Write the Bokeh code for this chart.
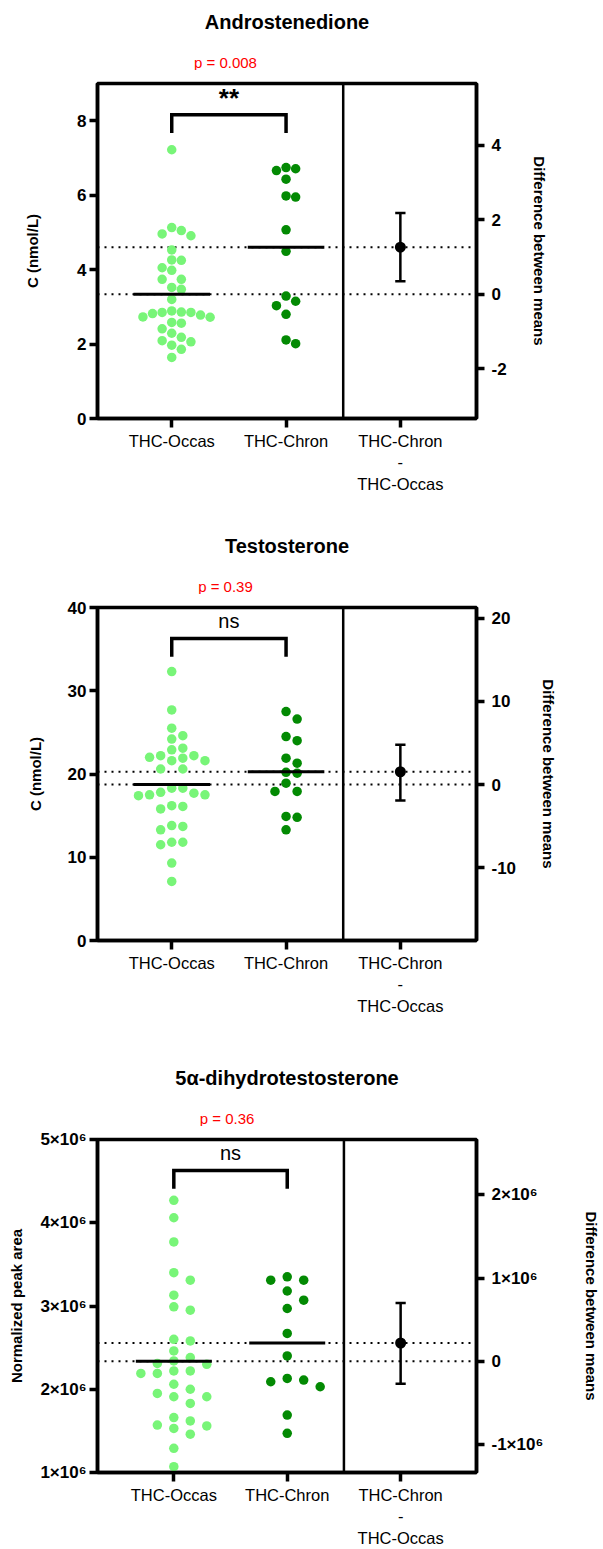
import numpy as np
from bokeh.plotting import figure
from bokeh.layouts import column
from bokeh.models import Range1d, LinearAxis, FixedTicker, Span, Label
from bokeh.embed import file_html
from bokeh.resources import INLINE

# ---------------- data ----------------
categories = ["THC-Occas", "THC-Chron", "THC-Chron\n-\nTHC-Occas"]

andro_occas = [7.22, 5.13, 5.05, 4.96, 4.91, 4.53, 4.26, 4.25, 4.05, 3.98, 3.74, 3.74,
               3.52, 3.47, 3.20, 2.89, 2.86, 2.85, 2.85, 2.82, 2.78, 2.73, 2.72, 2.58,
               2.56, 2.41, 2.29, 2.18, 2.09, 2.06, 1.97, 1.86, 1.64]
andro_chron = [6.74, 6.71, 6.66, 6.43, 5.98, 5.95, 5.07, 4.49, 3.29, 3.15, 3.03, 2.80,
               2.11, 2.01]
andro_ci = [0.35, 2.18]
andro_yticks = [0, 2, 4, 6, 8]
andro_ylabels = ["0", "2", "4", "6", "8"]
andro_rticks = [-2, 0, 2, 4]
andro_rlabels = ["-2", "0", "2", "4"]

testo_occas = [32.3, 27.7, 25.5, 24.6, 24.2, 23.1, 22.9, 22.2, 22.2, 22.0, 21.9, 21.6,
               21.6, 20.6, 20.6, 18.3, 18.3, 17.8, 17.7, 17.5, 17.5, 17.4, 16.2, 16.1,
               15.8, 13.8, 13.7, 13.3, 11.8, 11.8, 11.5, 9.3, 7.1]
testo_chron = [27.5, 26.6, 24.5, 24.0, 21.9, 21.3, 20.2, 20.1, 18.9, 17.9, 17.9, 14.9,
               14.8, 13.3]
testo_ci = [-1.9, 4.8]
testo_yticks = [0, 10, 20, 30, 40]
testo_ylabels = ["0", "10", "20", "30", "40"]
testo_rticks = [-10, 0, 10, 20]
testo_rlabels = ["-10", "0", "10", "20"]

dht_occas = [4.27e6, 4.06e6, 3.77e6, 3.40e6, 3.31e6, 3.13e6, 2.99e6, 2.95e6, 2.60e6,
             2.58e6, 2.46e6, 2.38e6, 2.34e6, 2.31e6, 2.30e6, 2.22e6, 2.22e6, 2.19e6,
             2.19e6, 2.06e6, 2.00e6, 1.95e6, 1.91e6, 1.91e6, 1.83e6, 1.66e6, 1.62e6,
             1.57e6, 1.56e6, 1.53e6, 1.46e6, 1.29e6, 1.07e6]
dht_chron = [3.35e6, 3.31e6, 3.31e6, 3.18e6, 3.07e6, 2.97e6, 2.67e6, 2.40e6, 2.13e6,
             2.11e6, 2.09e6, 2.03e6, 1.69e6, 1.47e6]
dht_ci = [-0.27e6, 0.70e6]
dht_yticks = [1000000, 2000000, 3000000, 4000000, 5000000]
dht_ylabels = ["1×10⁶", "2×10⁶", "3×10⁶", "4×10⁶", "5×10⁶"]
dht_rticks = [-1000000, 0, 1000000, 2000000]
dht_rlabels = ["-1×10⁶", "0", "1×10⁶", "2×10⁶"]

titles = ["Androstenedione", "Testosterone", "5α-dihydrotestosterone"]
p_values = ["p = 0.008", "p = 0.39", "p = 0.36"]
significance = ["**", "ns", "ns"]
y_axis_labels = ["C (nmol/L)", "C (nmol/L)", "Normalized peak area"]

# ---------------- style ----------------
FONT = "Liberation Sans"
LIGHT = "#78F578"
DARK = "#038A03"
W = 603


def swarm(vals, px_per_y, step_px, dv_px, px_per_x):
    """Grid beeswarm: offsets on half-step slots, no two markers closer than
    one step horizontally when they are within dv_px vertically."""
    vals = np.asarray(vals, float)
    ys = vals * px_per_y
    order = np.argsort(-vals, kind="stable")
    placed = []
    xs = np.zeros(len(vals))
    slots = [0]
    for k in range(1, 30):
        slots += [k, -k]
    for i in order:
        y = ys[i]
        near = [px for px, py in placed if abs(py - y) < dv_px]
        x = 0.0
        for s in slots:
            c = s * step_px / 2.0
            if all(abs(c - px) >= step_px * 0.99 for px in near):
                x = c
                break
        placed.append((x, y))
        xs[i] = x
    return xs / px_per_x


def style_axis(ax, size="17px", bold=True):
    ax.axis_line_width = 3.5
    ax.axis_line_color = "black"
    ax.major_tick_line_width = 3.5
    ax.major_tick_line_color = "black"
    ax.major_tick_in = 0
    ax.major_tick_out = 8
    ax.minor_tick_line_color = None
    ax.major_label_text_font = FONT
    ax.major_label_text_font_size = size
    ax.major_label_text_font_style = "bold" if bold else "normal"
    ax.major_label_text_color = "black"
    ax.axis_label_text_font = FONT
    ax.axis_label_text_font_size = "15px"
    ax.axis_label_text_font_style = "bold"
    ax.axis_label_text_color = "black"


def make_header(idx, hh, bl, br, bt_main, xr):
    hp = figure(width=W, height=hh, x_range=Range1d(*xr), y_range=Range1d(0, hh),
                output_backend="svg", toolbar_location=None, tools="",
                x_axis_location=None, y_axis_location=None,
                min_border_left=bl, min_border_right=br,
                min_border_top=0, min_border_bottom=0)
    hp.xgrid.visible = False
    hp.ygrid.visible = False
    hp.outline_line_color = None
    # distances (px) above the main frame's top edge
    hp.add_layout(Label(x=1.47, y=21 - bt_main, text=p_values[idx],
                        text_align="center", text_baseline="middle",
                        text_font=FONT, text_font_size="15px",
                        text_color="#FF0000"))
    hp.add_layout(Label(x=(xr[0] + xr[1]) / 2, y=62 - bt_main, text=titles[idx],
                        text_align="center", text_baseline="middle",
                        text_font=FONT, text_font_size="20px",
                        text_font_style="bold", text_color="black"))
    return hp


def make_panel(idx, occ, chron, ci, yr, yticks, ylabels, rticks, rlabels,
               h, bl, br, bt, bb, xr, step_px, sig_bold, lstand, rstand):
    frame_h = h - bt - bb
    frame_w = W - bl - br
    y0, y1 = yr
    px_per_y = frame_h / (y1 - y0)
    px_per_x = frame_w / (xr[1] - xr[0])

    p = figure(width=W, height=h, x_range=Range1d(*xr), y_range=Range1d(*yr),
               output_backend="svg", toolbar_location=None, tools="",
               min_border_left=bl, min_border_right=br,
               min_border_top=bt, min_border_bottom=bb)
    p.xgrid.visible = False
    p.ygrid.visible = False
    p.outline_line_color = "black"
    p.outline_line_width = 3.5
    p.outline_line_alpha = 1.0

    m_occ = float(np.mean(occ))
    m_chr = float(np.mean(chron))
    diff = m_chr - m_occ

    # right axis: difference between means, zero aligned with Occas mean
    p.extra_y_ranges = {"diff": Range1d(y0 - m_occ, y1 - m_occ)}

    xax = p.xaxis[0]
    style_axis(xax, size="16.5px", bold=False)
    xax.ticker = FixedTicker(ticks=[1, 2, 3])
    xax.major_label_overrides = {i + 1: c for i, c in enumerate(categories)}
    xax.major_tick_out = 9
    xax.major_label_standoff = 4

    yax = p.yaxis[0]
    style_axis(yax)
    yax.ticker = FixedTicker(ticks=yticks)
    yax.major_label_overrides = {t: l for t, l in zip(yticks, ylabels)}
    yax.major_label_standoff = 3
    yax.axis_label = y_axis_labels[idx]
    yax.axis_label_standoff = lstand

    rax = LinearAxis(y_range_name="diff")
    style_axis(rax)
    rax.ticker = FixedTicker(ticks=rticks)
    rax.major_label_overrides = {t: l for t, l in zip(rticks, rlabels)}
    rax.major_label_standoff = 7
    rax.axis_label = "Difference between means"
    rax.axis_label_standoff = rstand
    p.add_layout(rax, "right")

    for m in (m_occ, m_chr):
        p.add_layout(Span(location=m, dimension="width", line_color="black",
                          line_width=2, line_dash="2 5", level="underlay"))
    p.add_layout(Span(location=2.5, dimension="height", line_color="black",
                      line_width=2.5))

    ox = 1 + swarm(occ, px_per_y, step_px, 9.8, px_per_x)
    cx = 2 + swarm(chron, px_per_y, step_px, 9.8, px_per_x)
    p.scatter(ox, occ, size=9.5, fill_color=LIGHT, line_color=None)
    p.scatter(cx, chron, size=9.5, fill_color=DARK, line_color=None)

    hw = 0.335
    p.segment(x0=[1 - hw, 2 - hw], x1=[1 + hw, 2 + hw], y0=[m_occ, m_chr],
              y1=[m_occ, m_chr], line_color="black", line_width=3)

    p.segment(x0=[3], x1=[3], y0=[ci[0]], y1=[ci[1]], line_color="black",
              line_width=2.5, y_range_name="diff")
    cw = 0.045
    p.segment(x0=[3 - cw, 3 - cw], x1=[3 + cw, 3 + cw], y0=ci, y1=ci,
              line_color="black", line_width=2.5, y_range_name="diff")
    p.scatter([3], [diff], size=11, fill_color="black", line_color=None,
              y_range_name="diff")

    span = y1 - y0
    yt = y0 + 0.907 * span
    yl = y0 + 0.852 * span
    p.line([1, 1, 2, 2], [yl, yt, yt, yl], line_color="black", line_width=3.5,
           line_join="miter")
    p.add_layout(Label(x=1.5, y=y0 + 0.958 * span, text=significance[idx],
                       text_align="center", text_baseline="middle",
                       text_font=FONT,
                       text_font_size="26px" if sig_bold else "20px",
                       text_font_style="bold" if sig_bold else "normal",
                       text_color="black"))
    return p


BT = 13
xr12 = (0.3506, 3.666)
xr3 = (0.327, 3.669)

h1 = make_header(0, 83 - BT, 95, 125, BT, xr12)
p1 = make_panel(0, andro_occas, andro_chron, andro_ci, (0, 9), andro_yticks,
                andro_ylabels, andro_rticks, andro_rlabels,
                h=520 - 83 + BT, bl=95, br=125, bt=BT, bb=102, xr=xr12,
                step_px=9.7, sig_bold=True, lstand=33, rstand=21)
h2 = make_header(1, 87 - BT, 95, 125, BT, xr12)
p2 = make_panel(1, testo_occas, testo_chron, testo_ci, (0, 40), testo_yticks,
                testo_ylabels, testo_rticks, testo_rlabels,
                h=520 - 87 + BT, bl=95, br=125, bt=BT, bb=100, xr=xr12,
                step_px=11.2, sig_bold=False, lstand=21, rstand=21)
h3 = make_header(2, 99 - BT, 97, 115, BT, xr3)
p3 = make_panel(2, dht_occas, dht_chron, dht_ci, (1e6, 5e6), dht_yticks,
                dht_ylabels, dht_rticks, dht_rlabels,
                h=509 - 99 + BT, bl=97, br=115, bt=BT, bb=70, xr=xr3,
                step_px=17, sig_bold=False, lstand=12, rstand=37)

layout = column(h1, p1, h2, p2, h3, p3, spacing=0)
open("out.html", "w").write(file_html(layout, INLINE))
